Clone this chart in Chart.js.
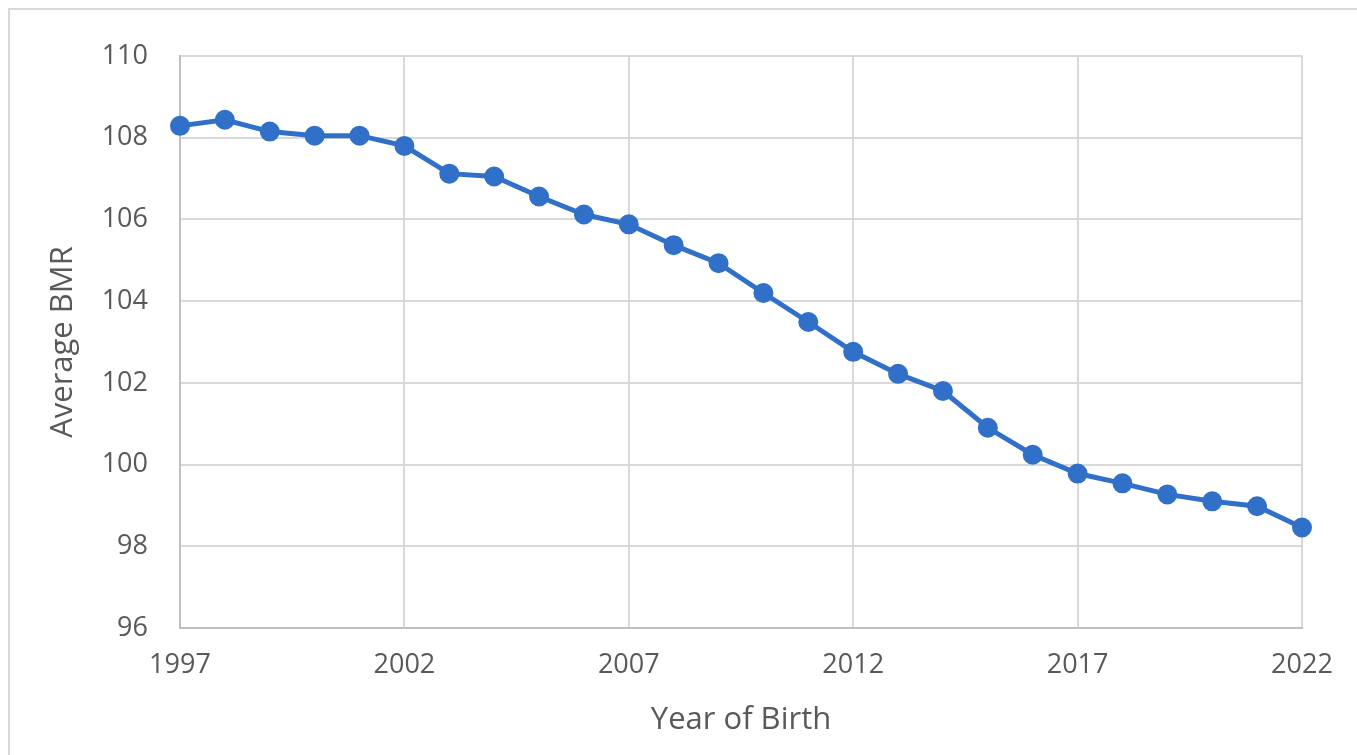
<!DOCTYPE html>
<html>
<head>
<meta charset="utf-8">
<script src="https://cdn.jsdelivr.net/npm/chart.js@4.4.0/dist/chart.umd.min.js"></script>
<style>
  html, body { margin: 0; padding: 0; background: #fff; overflow: hidden; }
  #frame { position: absolute; left: 8px; top: 8px; width: 2000px; height: 2000px; border: 2px solid #d9d9d9; }
  #wrap { position: absolute; left: 0; top: 0; width: 1357px; height: 755px; }
</style>
</head>
<body>
<div id="frame"></div>
<div id="wrap"><canvas id="bmrChart"></canvas></div>
<script>
// Average BMR by year of birth
const years = [1997, 1998, 1999, 2000, 2001, 2002, 2003, 2004, 2005, 2006, 2007, 2008, 2009,
  2010, 2011, 2012, 2013, 2014, 2015, 2016, 2017, 2018, 2019, 2020, 2021, 2022];
const avgBmr = [108.29, 108.44, 108.15, 108.05, 108.05, 107.80, 107.12, 107.05, 106.56, 106.12,
  105.88, 105.37, 104.93, 104.20, 103.49, 102.76, 102.22, 101.80, 100.90, 100.24,
  99.78, 99.54, 99.27, 99.10, 98.98, 98.46];
const xTicks = [1997, 2002, 2007, 2012, 2017, 2022];
const yTicks = [96, 98, 100, 102, 104, 106, 108, 110];

const textColor = '#595959';
const gridColor = '#d9d9d9';
const lineColor = '#3170c8';
const fontFamily = '"Open Sans", sans-serif';

new Chart(document.getElementById('bmrChart'), {
  type: 'line',
  data: {
    datasets: [{
      label: 'Average BMR',
      data: years.map((y, i) => ({ x: y, y: avgBmr[i] })),
      borderColor: lineColor,
      backgroundColor: lineColor,
      borderWidth: 5,
      pointRadius: 7.5,
      pointHoverRadius: 7.5,
      tension: 0,
      clip: false
    }]
  },
  options: {
    responsive: true,
    maintainAspectRatio: false,
    animation: false,
    layout: { padding: { left: 45, top: 56, right: 55, bottom: 0 } },
    plugins: { legend: { display: false }, tooltip: { enabled: false } },
    scales: {
      x: {
        type: 'linear',
        min: xTicks[0],
        max: xTicks[xTicks.length - 1],
        afterBuildTicks: axis => { axis.ticks = xTicks.map(v => ({ value: v })); },
        afterFit: axis => { axis.height = 127; },
        grid: { color: gridColor, lineWidth: 2, drawTicks: false },
        border: { color: '#bfbfbf', width: 2 },
        ticks: {
          color: textColor,
          font: { family: fontFamily, size: 27 },
          padding: 21,
          maxRotation: 0,
          callback: v => String(v)
        },
        title: {
          display: true,
          text: 'Year of Birth',
          color: textColor,
          font: { family: fontFamily, size: 31 },
          padding: { top: 0, bottom: 16 }
        }
      },
      y: {
        min: yTicks[0],
        max: yTicks[yTicks.length - 1],
        afterBuildTicks: axis => { axis.ticks = yTicks.map(v => ({ value: v })); },
        afterFit: axis => { axis.width = 135; },
        grid: { color: gridColor, lineWidth: 2, drawTicks: false },
        border: { color: '#bfbfbf', width: 2 },
        ticks: {
          color: textColor,
          font: { family: fontFamily, size: 27 },
          padding: 32
        },
        title: {
          display: true,
          text: 'Average BMR',
          color: textColor,
          font: { family: fontFamily, size: 31 },
          padding: { top: 0, bottom: 0 }
        }
      }
    }
  }
});
</script>
</body>
</html>
